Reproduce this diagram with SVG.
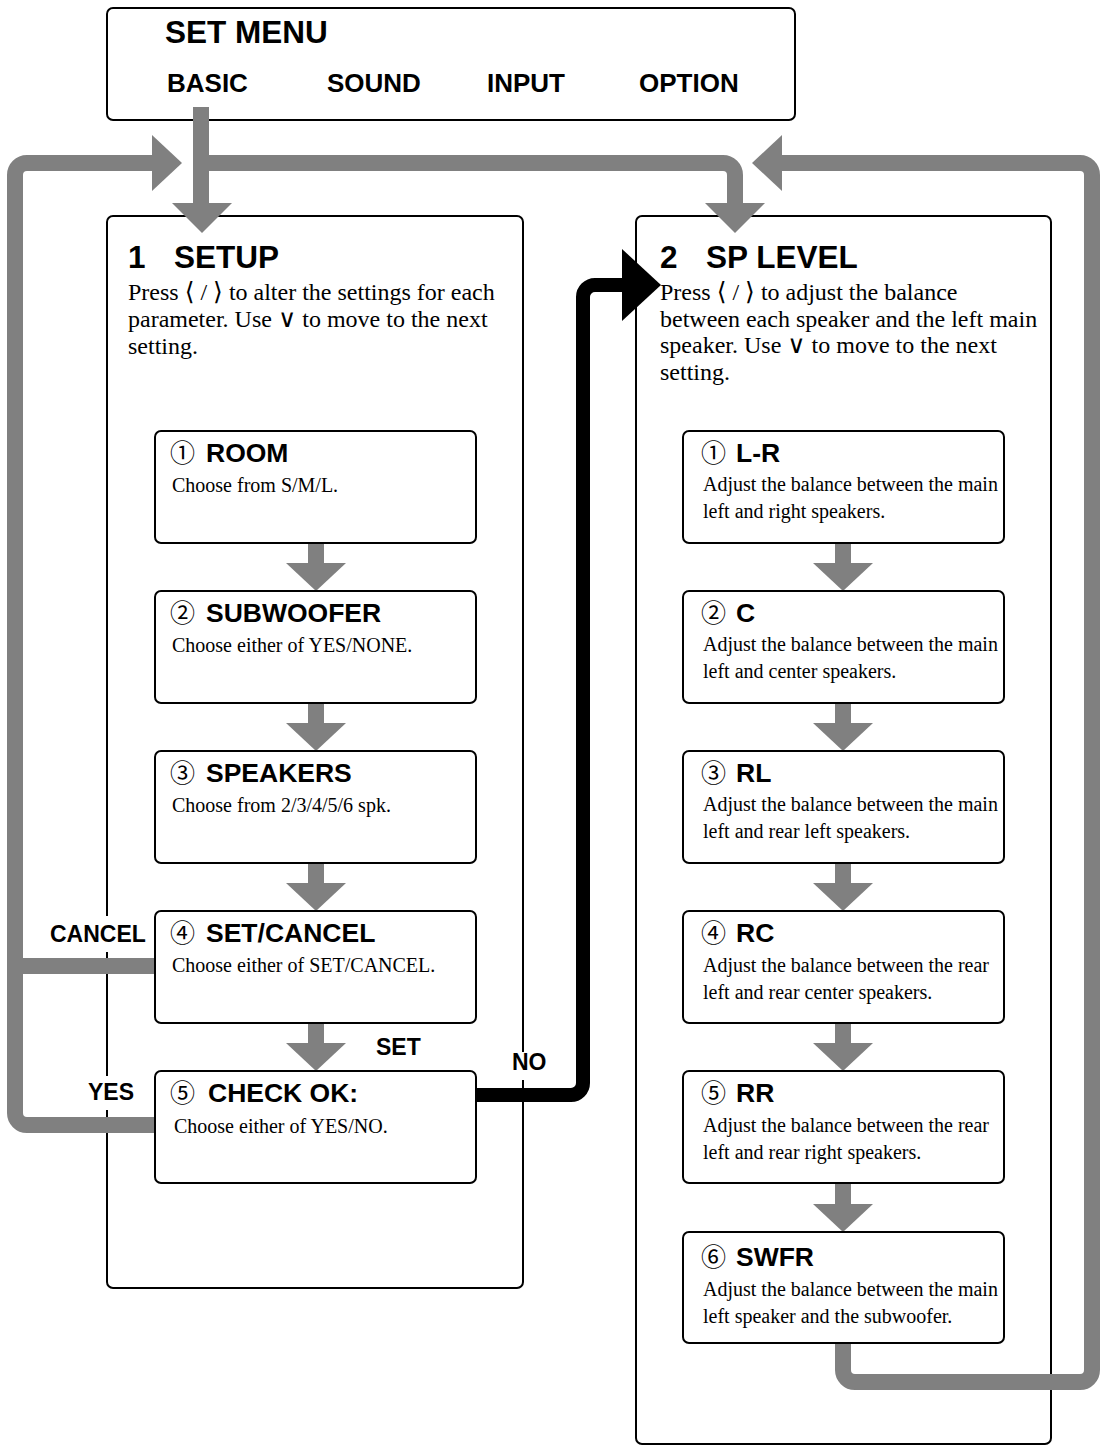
<svg xmlns="http://www.w3.org/2000/svg" width="1105" height="1446" viewBox="0 0 1105 1446">
<style>
.box{fill:#fff;stroke:#000;stroke-width:2}
.big{fill:none;stroke:#000;stroke-width:2}
.gray{fill:none;stroke:#808080;stroke-width:16}
.grayf{fill:#808080}
.blk{fill:none;stroke:#000;stroke-width:14}
.menu{font-family:"Liberation Sans",Arial,sans-serif;font-weight:bold;font-size:26px;fill:#000}
.h1{font-family:"Liberation Sans",Arial,sans-serif;font-weight:bold;font-size:31.5px;fill:#000}
.h2{font-family:"Liberation Sans",Arial,sans-serif;font-weight:bold;font-size:26.5px;fill:#000}
.num{font-family:"Noto Sans CJK JP","DejaVu Sans",sans-serif;font-size:25px;fill:#000}
.p{font-family:"Liberation Serif","Times New Roman",serif;font-size:24px;fill:#000}
.d{font-family:"Liberation Serif","Times New Roman",serif;font-size:20px;fill:#000}
.sym{font-family:"DejaVu Sans",sans-serif;font-size:25px}
.lbl{font-family:"Liberation Sans",Arial,sans-serif;font-weight:bold;font-size:23px;fill:#000}
</style>
<g id="setmenu">
<rect class="box" x="107" y="8" width="688" height="112" rx="6"/>
<text class="menu" x="165" y="43" style="font-size:31.5px">SET MENU</text>
<text class="menu" x="167" y="92">BASIC</text>
<text class="menu" x="327" y="92">SOUND</text>
<text class="menu" x="487" y="92">INPUT</text>
<text class="menu" x="639" y="92">OPTION</text>
</g>
<g id="setup">
<rect class="big" x="107" y="216" width="416" height="1072" rx="6"/>
<text class="h1" x="128" y="268">1</text>
<text class="h1" x="174" y="268">SETUP</text>
<text class="p" x="128" y="300">Press <tspan class="sym">⟨</tspan> / <tspan class="sym">⟩</tspan> to alter the settings for each</text>
<text class="p" x="128" y="327">parameter. Use <tspan class="sym">∨</tspan> to move to the next</text>
<text class="p" x="128" y="354">setting.</text>
</g>
<g id="splevel">
<rect class="big" x="636" y="216" width="415" height="1228" rx="6"/>
<text class="h1" x="660" y="268">2</text>
<text class="h1" x="706" y="268">SP LEVEL</text>
<text class="p" x="660" y="300">Press <tspan class="sym">⟨</tspan> / <tspan class="sym">⟩</tspan> to adjust the balance</text>
<text class="p" x="660" y="327">between each speaker and the left main</text>
<text class="p" x="660" y="353">speaker. Use <tspan class="sym">∨</tspan> to move to the next</text>
<text class="p" x="660" y="380">setting.</text>
</g>
<g id="connectors">
<path class="gray" d="M201,107 V203"/>
<polygon class="grayf" points="172,203 232,203 202,233"/>
<path class="gray" d="M201,163 H723 A12,12 0 0 1 735,175 V203"/>
<polygon class="grayf" points="705,203 765,203 735,233"/>
<path class="gray" d="M155,1125 H27 A12,12 0 0 1 15,1113 V175 A12,12 0 0 1 27,163 H152"/>
<path class="gray" d="M155,966 H15"/>
<polygon class="grayf" points="152,135 182,163 152,191"/>
<path class="gray" d="M782,163 H1080 A12,12 0 0 1 1092,175 V1370 A12,12 0 0 1 1080,1382 H855 A12,12 0 0 1 843,1370 V1343"/>
<polygon class="grayf" points="782,135 752,163 782,191"/>
<path class="blk" d="M476,1095 H571 A12,12 0 0 0 583,1083 V297 A12,12 0 0 1 595,285 H624"/>
<polygon fill="#000" points="622,249 661,285 622,321"/>
<g id="steps-left">
<path class="gray" d="M316,543 V563"/><polygon class="grayf" points="286,563 346,563 316,591"/>
<path class="gray" d="M316,703 V723"/><polygon class="grayf" points="286,723 346,723 316,751"/>
<path class="gray" d="M316,863 V883"/><polygon class="grayf" points="286,883 346,883 316,911"/>
<path class="gray" d="M316,1023 V1043"/><polygon class="grayf" points="286,1043 346,1043 316,1071"/>
</g>
<g id="steps-right">
<path class="gray" d="M843,543 V563"/><polygon class="grayf" points="813,563 873,563 843,591"/>
<path class="gray" d="M843,703 V723"/><polygon class="grayf" points="813,723 873,723 843,751"/>
<path class="gray" d="M843,863 V883"/><polygon class="grayf" points="813,883 873,883 843,911"/>
<path class="gray" d="M843,1023 V1043"/><polygon class="grayf" points="813,1043 873,1043 843,1071"/>
<path class="gray" d="M843,1183 V1204"/><polygon class="grayf" points="813,1204 873,1204 843,1232"/>
</g>
</g>
<g id="room">
<rect class="box" x="155" y="431" width="321" height="112" rx="6"/>
<text class="num" x="170" y="462">①</text><text class="h2" x="206" y="462">ROOM</text>
<text class="d" x="172" y="492">Choose from S/M/L.</text>
</g>
<g id="subwoofer">
<rect class="box" x="155" y="591" width="321" height="112" rx="6"/>
<text class="num" x="170" y="622">②</text><text class="h2" x="206" y="622">SUBWOOFER</text>
<text class="d" x="172" y="652">Choose either of YES/NONE.</text>
</g>
<g id="speakers">
<rect class="box" x="155" y="751" width="321" height="112" rx="6"/>
<text class="num" x="170" y="782">③</text><text class="h2" x="206" y="782">SPEAKERS</text>
<text class="d" x="172" y="812">Choose from 2/3/4/5/6 spk.</text>
</g>
<g id="setcancel">
<rect class="box" x="155" y="911" width="321" height="112" rx="6"/>
<text class="num" x="170" y="942">④</text><text class="h2" x="206" y="942">SET/CANCEL</text>
<text class="d" x="172" y="972">Choose either of SET/CANCEL.</text>
</g>
<g id="checkok">
<rect class="box" x="155" y="1071" width="321" height="112" rx="6"/>
<text class="num" x="170" y="1102">⑤</text><text class="h2" x="208" y="1102">CHECK OK:</text>
<text class="d" x="174" y="1133">Choose either of YES/NO.</text>
</g>
<g id="lr">
<rect class="box" x="683" y="431" width="321" height="112" rx="6"/>
<text class="num" x="701" y="462">①</text><text class="h2" x="736" y="462">L-R</text>
<text class="d" x="703" y="491">Adjust the balance between the main</text>
<text class="d" x="703" y="518">left and right speakers.</text>
</g>
<g id="c">
<rect class="box" x="683" y="591" width="321" height="112" rx="6"/>
<text class="num" x="701" y="622">②</text><text class="h2" x="736" y="622">C</text>
<text class="d" x="703" y="651">Adjust the balance between the main</text>
<text class="d" x="703" y="678">left and center speakers.</text>
</g>
<g id="rl">
<rect class="box" x="683" y="751" width="321" height="112" rx="6"/>
<text class="num" x="701" y="782">③</text><text class="h2" x="736" y="782">RL</text>
<text class="d" x="703" y="811">Adjust the balance between the main</text>
<text class="d" x="703" y="838">left and rear left speakers.</text>
</g>
<g id="rc">
<rect class="box" x="683" y="911" width="321" height="112" rx="6"/>
<text class="num" x="701" y="942">④</text><text class="h2" x="736" y="942">RC</text>
<text class="d" x="703" y="972">Adjust the balance between the rear</text>
<text class="d" x="703" y="999">left and rear center speakers.</text>
</g>
<g id="rr">
<rect class="box" x="683" y="1071" width="321" height="112" rx="6"/>
<text class="num" x="701" y="1102">⑤</text><text class="h2" x="736" y="1102">RR</text>
<text class="d" x="703" y="1132">Adjust the balance between the rear</text>
<text class="d" x="703" y="1159">left and rear right speakers.</text>
</g>
<g id="swfr">
<rect class="box" x="683" y="1232" width="321" height="111" rx="6"/>
<text class="num" x="701" y="1266">⑥</text><text class="h2" x="736" y="1266">SWFR</text>
<text class="d" x="703" y="1296">Adjust the balance between the main</text>
<text class="d" x="703" y="1323">left speaker and the subwoofer.</text>
</g>
<g id="labels">
<rect x="100" y="916" width="14" height="36" fill="#fff"/>
<text class="lbl" x="50" y="942">CANCEL</text>
<text class="lbl" x="376" y="1055">SET</text>
<rect x="516" y="1052" width="14" height="28" fill="#fff"/>
<text class="lbl" x="512" y="1070">NO</text>
<rect x="100" y="1076" width="14" height="34" fill="#fff"/>
<text class="lbl" x="88" y="1100">YES</text>
</g>
</svg>
